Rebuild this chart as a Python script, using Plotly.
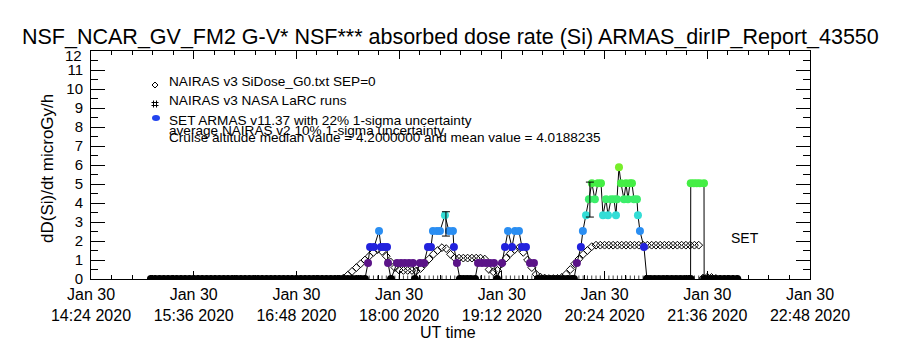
import plotly.graph_objects as go
import pandas as pd

DAY = "2020-01-30 "

# ---- NAIRAS v3 SiDose_G0.txt SEP=0 (3-minute cadence starting 15:06 UT) ----
NAIRAS_START = "15:06:00"
NAIRAS_STEP_MIN = 3
NAIRAS_VALUES = [
    0, 0, 0, 0, 0, 0, 0, 0, 0, 0, 0, 0, 0, 0, 0,
    0, 0, 0, 0, 0, 0, 0, 0, 0, 0, 0, 0, 0, 0, 0,
    0, 0, 0, 0, 0, 0, 0, 0, 0, 0, 0, 0, 0, 0, 0,
    0.05, 0.2, 0.4, 0.6, 0.8, 1.0, 1.2, 1.4, 1.55, 1.45, 1.2, 0.9, 0.6, 0.47,
    0.45, 0.45, 0.45, 0.42, 0.55, 0.8, 1.05, 1.3, 1.5, 1.65, 1.6, 1.3, 1.1,
    1.1, 1.1, 1.1, 1.1, 1.1, 1.1,
    1.05, 0.5, 0.38, 0.45, 0.8, 1.1, 1.35, 1.55, 1.65, 1.4, 1.0, 0.6, 0.25,
    0.1, 0.05, 0.02, 0.02, 0.03, 0.08, 0.25, 0.5, 0.8, 1.05, 1.3, 1.5, 1.7, 1.78,
    1.78, 1.78, 1.78, 1.78, 1.78, 1.78, 1.78, 1.78, 1.78, 1.78, 1.78, 1.78,
    1.78, 1.78, 1.78, 1.78, 1.78, 1.78, 1.78, 1.78, 1.78, 1.78, 1.78, 1.78,
    0.05, 0.1, 0.08, 0.03, 0, 0, 0, 0, 0,
]

# ---- NAIRAS v3 NASA LaRC runs (3-minute cadence starting 15:06 UT) ----
LARC_START = "15:06:00"
LARC_STEP_MIN = 3
LARC_VALUES = [
    0, 0, 0, 0, 0, 0, 0, 0, 0, 0, 0, 0, 0, 0, 0, 0, 0, 0, 0, 0, 0, 0, 0,
    0, 0, 0, 0, 0, 0, 0, 0, 0, 0, 0, 0, 0, 0, 0, 0, 0, 0, 0, 0, 0, 0, 0,
    0, 0, 0, 0, 0, 0, 0, 0, 0, 0, 0, 0, 0, 0, 0, 0, 0, 0, 0, 0, 0, 0, 0,
    0, 0, 0, 0, 0, 0, 0, 0, 0, 0, 0, 0, 0, 0, 0, 0, 0, 0, 0, 0, 0, 0, 0,
    0, 0, 0, 0, 0, 0, 0, 0, 0, 0, 0, 0, 0, 0, 0, 0, 0, 0, 0, 0, 0, 0, 0,
    0, 0, 0, 0, 0, 0, 0, 0, 0, 0, 0, 0, 0, 0, 0, 0, 0, 0, 0, 0, 0, 0, 0,
]

# ---- SET ARMAS v11.37 ----
ARMAS_TIMES = [
    "15:06", "15:09", "15:12", "15:15", "15:18", "15:21", "15:24", "15:27", "15:30",
    "15:33", "15:36", "15:39", "15:42", "15:45", "15:48", "15:51", "15:54", "15:57",
    "16:00", "16:03", "16:06", "16:09", "16:12", "16:15", "16:18", "16:21", "16:24",
    "16:27", "16:30", "16:33", "16:36", "16:39", "16:42", "16:45", "16:48", "16:51",
    "16:54", "16:57", "17:00", "17:03", "17:06", "17:09", "17:12", "17:15", "17:18",
    "17:21", "17:24", "17:27", "17:30", "17:33", "17:36",
    "17:38:12", "17:39:36", "17:42:24", "17:45:54", "17:47:18", "17:49:24", "17:51:30",
    "17:52:12", "17:54:18", "17:58:30", "18:01:18", "18:04:00", "18:06:54", "18:09:42",
    "18:11:06", "18:14:36", "18:17:24", "18:20:12", "18:22:18", "18:23:42", "18:26:30",
    "18:28:36", "18:32:06", "18:34:54", "18:37:42", "18:38:24", "18:40:30", "18:42:36",
    "18:45:06", "18:47:36", "18:50:06", "18:53:12", "18:55:18", "18:58:06", "19:00:54",
    "19:03:42", "19:06:30", "19:08:36", "19:12:06", "19:14:12", "19:16:18", "19:19:06",
    "19:21:12", "19:24:00", "19:26:06", "19:28:54", "19:31:42", "19:34:30", "19:37:18",
    "19:40", "19:43", "19:46", "19:49", "19:52", "19:55", "19:58", "20:01",
    "20:02:30", "20:04:36", "20:07:24", "20:08:48", "20:11:00", "20:13:00", "20:15:06",
    "20:17:12", "20:19:18", "20:21:30", "20:22:54", "20:25:00", "20:26:24", "20:28:30",
    "20:30:36", "20:32:00", "20:32:42", "20:34:06", "20:35:30", "20:37:36", "20:39:00",
    "20:40:24", "20:41:48", "20:43:12", "20:44:36", "20:46:42", "20:47:24", "20:48:48",
    "20:51:36", "20:53:42",
    "20:56", "20:59", "21:02", "21:05", "21:08", "21:11", "21:14", "21:17", "21:20",
    "21:23",
    "21:24:18", "21:24:24", "21:26:30", "21:28:36", "21:30:42", "21:33:42", "21:33:48",
    "21:36", "21:39", "21:42", "21:45", "21:48", "21:51", "21:54", "21:57",
]
ARMAS_VALUES = [
    0, 0, 0, 0, 0, 0, 0, 0, 0,
    0, 0, 0, 0, 0, 0, 0, 0, 0,
    0, 0, 0, 0, 0, 0, 0, 0, 0,
    0, 0, 0, 0, 0, 0, 0, 0, 0,
    0, 0, 0, 0, 0, 0, 0, 0, 0,
    0, 0, 0, 0, 0, 0,
    0.84, 1.68, 1.68, 2.52, 1.68, 1.68, 1.68,
    0.84, 0, 0.84, 0.84, 0.84, 0.84, 0.84,
    0, 0.84, 0.84, 1.68, 1.68, 2.52, 2.52,
    2.52, 3.36, 2.52, 2.52, 1.68, 0.84, 0,
    0, 0, 0, 0, 0.84, 0.84, 0.84,
    0.84, 0.84, 0, 0.84, 1.68, 2.52, 1.68,
    2.52, 2.52, 1.68, 1.68, 0.84, 0.84, 0,
    0, 0, 0, 0, 0, 0, 0, 0,
    0, 0.84, 1.68, 2.52, 3.36, 4.2, 5.04,
    4.2, 5.04, 5.04, 3.36, 4.2, 3.36, 4.2,
    4.2, 3.36, 4.2, 5.88, 5.04, 4.2, 5.04,
    4.2, 5.04, 5.04, 4.2, 4.2, 3.36, 2.52,
    1.68, 0,
    0, 0, 0, 0, 0, 0, 0, 0, 0,
    0,
    0, 5.04, 5.04, 5.04, 5.04, 5.04, 0,
    0, 0, 0, 0, 0, 0, 0, 0,
]

# 22% 1-sigma uncertainty bars
ERR_TIMES = ["18:32:48", "20:13:42"]
ERR_VALUES = [2.9, 4.18]
ERR_SIGMA = [0.64, 0.92]

# colour levels of the ARMAS markers (rainbow table)
LEVELS = [0.0, 0.84, 1.68, 2.52, 3.36, 4.2, 5.04, 5.88]
LEVEL_COLORS = ["#000000", "#5B1488", "#2222DD", "#2A8EF2", "#33DDD6",
                "#3CEE6A", "#44EE44", "#77EE2A"]

X_TICK0 = "14:24"
X_END = "22:48"
Y_TICKS = list(range(0, 13))

TITLE = "NSF_NCAR_GV_FM2 G-V* NSF*** absorbed dose rate (Si) ARMAS_dirIP_Report_43550"
Y_TITLE = "dD(Si)/dt microGy/h"
X_TITLE = "UT time"
LEGEND_LINES = [
    "NAIRAS v3 SiDose_G0.txt SEP=0",
    "NAIRAS v3 NASA LaRC runs",
    "SET ARMAS v11.37 with 22% 1-sigma uncertainty",
    "average NAIRAS v2 10% 1-sigma uncertainty",
    "Cruise altitude median value = 4.2000000 and mean value = 4.0188235",
]

FONT = "Liberation Sans"

# ---------------------------------------------------------------------------
def ts(t):
    return pd.Timestamp(DAY + t)

nairas_t = pd.date_range(ts(NAIRAS_START), periods=len(NAIRAS_VALUES),
                         freq=f"{NAIRAS_STEP_MIN}min")
larc_t = pd.date_range(ts(LARC_START), periods=len(LARC_VALUES),
                       freq=f"{LARC_STEP_MIN}min")
armas_t = [ts(t) for t in ARMAS_TIMES]
err_t = [ts(t) for t in ERR_TIMES]


def level_color(v):
    i = min(range(len(LEVELS)), key=lambda k: abs(LEVELS[k] - v))
    return LEVEL_COLORS[i]

armas_colors = [level_color(v) for v in ARMAS_VALUES]

fig = go.Figure()
fig.add_trace(go.Scatter(
    x=nairas_t, y=NAIRAS_VALUES, mode="markers",
    marker=dict(symbol="diamond-open", size=6, color="black", line=dict(width=1)),
))
fig.add_trace(go.Scatter(
    x=larc_t, y=LARC_VALUES, mode="markers",
    marker=dict(symbol="line-ns", size=5, color="black", line=dict(width=1)),
))
fig.add_trace(go.Scatter(
    x=armas_t, y=ARMAS_VALUES, mode="lines+markers",
    line=dict(color="black", width=1),
    marker=dict(symbol="circle", size=8, color=armas_colors, line=dict(width=0)),
))
fig.add_trace(go.Scatter(
    x=err_t, y=ERR_VALUES, mode="markers",
    marker=dict(size=1, color="rgba(0,0,0,0)"),
    error_y=dict(type="data", array=ERR_SIGMA, color="black", thickness=1, width=4),
))

L, R, T, B = 91, 810, 51, 279
W, H = 900, 350


def px(xp):
    return (xp - L) / (R - L)


def py(yp):
    return (B - yp) / (B - T)

ann = []
ann.append(dict(text=TITLE, x=px(450), y=py(37), xref="paper", yref="paper",
                xanchor="center", yanchor="middle", showarrow=False,
                font=dict(family=FONT, size=21.5, color="black")))
ann.append(dict(text=Y_TITLE, x=px(47), y=py(169), xref="paper", yref="paper",
                xanchor="center", yanchor="middle", showarrow=False, textangle=-90,
                font=dict(family=FONT, size=17, color="black")))
ann.append(dict(text=X_TITLE, x=px(448), y=py(332), xref="paper", yref="paper",
                xanchor="center", yanchor="middle", showarrow=False,
                font=dict(family=FONT, size=16, color="black")))
ann.append(dict(text="SET", x=px(745), y=py(238), xref="paper", yref="paper",
                xanchor="center", yanchor="middle", showarrow=False,
                font=dict(family=FONT, size=14, color="black")))
# top y label sits a little below its tick, as in the reference
ann.append(dict(text=str(Y_TICKS[-1]), x=px(84), y=py(56), xref="paper", yref="paper",
                xanchor="right", yanchor="middle", showarrow=False,
                font=dict(family=FONT, size=15, color="black")))
for text, yc in zip(LEGEND_LINES, [81, 100.5, 120, 130, 137]):
    ann.append(dict(text=text, x=px(167), y=py(yc), xref="paper", yref="paper",
                    xanchor="left", yanchor="middle", showarrow=False,
                    font=dict(family=FONT, size=13.6, color="black")))

shapes = []
# legend symbol: diamond
cx, cy, r = 155, 85, 3
shapes.append(dict(type="path", xref="paper", yref="paper",
                   path=f"M {px(cx-r)} {py(cy)} L {px(cx)} {py(cy-r)} L {px(cx+r)} {py(cy)} L {px(cx)} {py(cy+r)} Z",
                   line=dict(color="black", width=1)))
# legend symbol: hash
cx, cy = 155, 104
for dx in (-1.5, 1.5):
    shapes.append(dict(type="line", xref="paper", yref="paper",
                       x0=px(cx + dx), x1=px(cx + dx), y0=py(cy - 3.5), y1=py(cy + 3.5),
                       line=dict(color="black", width=1)))
for dy in (-1.5, 1.5):
    shapes.append(dict(type="line", xref="paper", yref="paper",
                       x0=px(cx - 3.5), x1=px(cx + 3.5), y0=py(cy + dy), y1=py(cy + dy),
                       line=dict(color="black", width=1)))
# legend symbol: ARMAS blob
shapes.append(dict(type="circle", xref="paper", yref="paper",
                   x0=px(152), x1=px(160), y0=py(115), y1=py(121),
                   fillcolor="#2244EE", line=dict(width=0)))

fig.update_layout(
    width=W, height=H,
    margin=dict(l=L, r=W - R, t=T, b=H - B, pad=0),
    paper_bgcolor="white", plot_bgcolor="white",
    showlegend=False,
    font=dict(family=FONT, color="black"),
    annotations=ann, shapes=shapes,
)
fig.update_xaxes(
    type="date", range=[ts(X_TICK0), ts(X_END)],
    tick0=ts(X_TICK0), dtick=72 * 60 * 1000,
    tickformat="%b %d<br>%H:%M %Y",
    ticks="inside", ticklen=8, tickcolor="black", tickwidth=1,
    minor=dict(tick0=ts(X_TICK0), dtick=int(14.4 * 60 * 1000), ticks="inside",
               ticklen=4, tickcolor="black", showgrid=False),
    showline=True, linecolor="black", linewidth=1, mirror="ticks",
    showgrid=False, zeroline=False,
    tickfont=dict(family=FONT, size=16, color="black"),
    ticklabelstandoff=1,
)
fig.update_yaxes(
    range=[0, 12], tickvals=Y_TICKS, ticktext=[str(v) for v in Y_TICKS[:-1]] + [""],
    ticks="inside", ticklen=14, tickcolor="black", tickwidth=1,
    minor=dict(dtick=0.5, ticks="inside", ticklen=7, tickcolor="black", showgrid=False),
    showline=True, linecolor="black", linewidth=1, mirror="ticks",
    showgrid=False, zeroline=False,
    tickfont=dict(family=FONT, size=15, color="black"),
    ticklabelstandoff=4,
)

fig.write_html("out.html")
